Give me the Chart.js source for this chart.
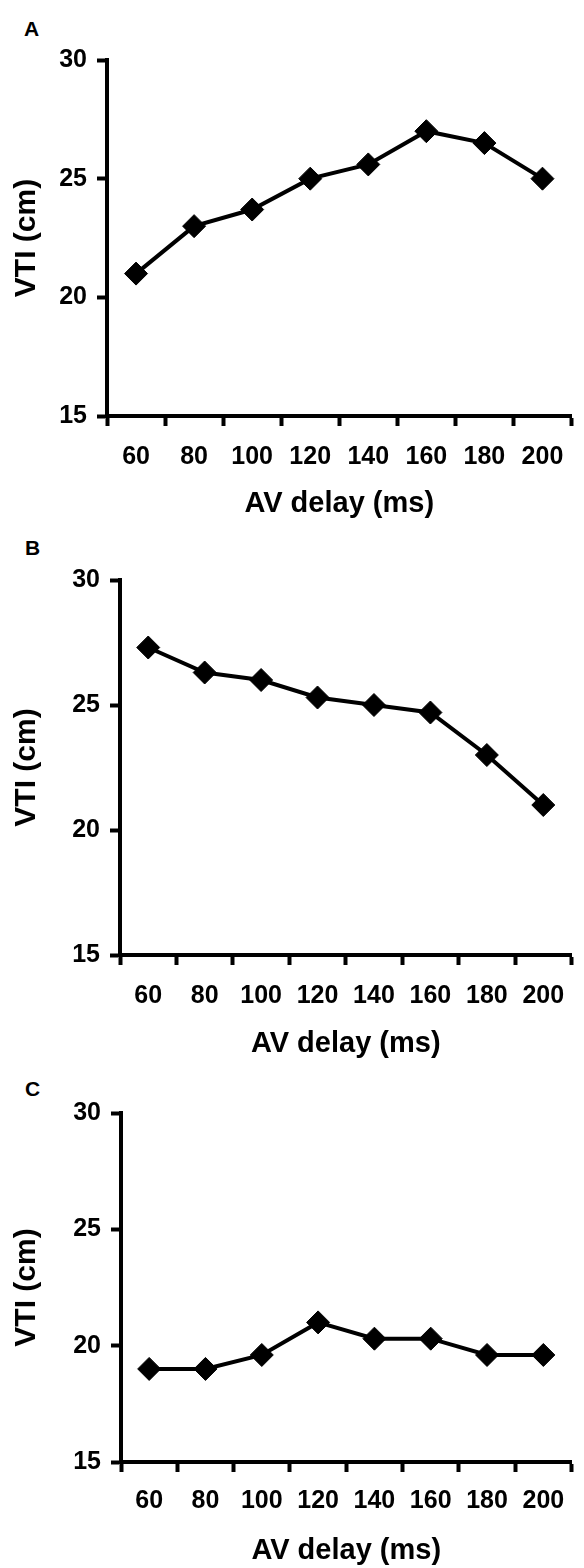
<!DOCTYPE html>
<html>
<head>
<meta charset="utf-8">
<script src="https://cdn.jsdelivr.net/npm/chart.js@4"></script>
<style>
  body { margin: 0; background: #fff; }
  .panel { position: absolute; left: 0; width: 584px; }
  .letter { position: absolute; font: bold 21px "Liberation Sans", Arial, sans-serif; color: #000; line-height: 1; }
</style>
</head>
<body>
<div class="letter" style="left:24px; top:18px;">A</div>
<div class="letter" style="left:25px; top:537px;">B</div>
<div class="letter" style="left:25px; top:1078px;">C</div>
<div class="panel" style="top:0; height:525px;"><canvas id="chart-a" width="584" height="525"></canvas></div>
<div class="panel" style="top:525px; height:538px;"><canvas id="chart-b" width="584" height="538"></canvas></div>
<div class="panel" style="top:1063px; height:505px;"><canvas id="chart-c" width="584" height="505"></canvas></div>
<script>
const delays = ['60', '80', '100', '120', '140', '160', '180', '200'];
const vtiA = [21, 23, 23.7, 25, 25.6, 27, 26.5, 25];
const vtiB = [27.3, 26.3, 26, 25.3, 25, 24.7, 23, 21];
const vtiC = [19, 19, 19.6, 21, 20.3, 20.3, 19.6, 19.6];
const yMin = 15, yMax = 30, yStep = 5;
const xTitle = 'AV delay (ms)';
const yTitle = 'VTI (cm)';

const FONT = '"Liberation Sans", Arial, sans-serif';

function makePanel(id, values, d) {
  const ctx = document.getElementById(id).getContext('2d');
  return new Chart(ctx, {
    type: 'line',
    data: {
      labels: delays,
      datasets: [{
        data: values,
        borderColor: '#000',
        borderWidth: 4,
        pointStyle: 'rectRot',
        pointRadius: 11.5,
        pointBackgroundColor: '#000',
        pointBorderColor: '#000',
        pointBorderWidth: 1,
        tension: 0,
        clip: false,
      }],
    },
    options: {
      responsive: false,
      animation: false,
      devicePixelRatio: 1,
      layout: { padding: { top: d.top, right: d.right, left: 0, bottom: 0 } },
      plugins: { legend: { display: false }, tooltip: { enabled: false } },
      scales: {
        x: {
          type: 'category',
          offset: true,
          afterFit: s => { s.height = d.xHeight; },
          grid: { offset: true, drawOnChartArea: false, drawTicks: true, tickLength: 10, tickWidth: 4, color: '#000' },
          border: { display: true, width: 4, color: '#000' },
          ticks: { color: '#000', padding: d.xPad, maxRotation: 0, autoSkip: false, font: { family: FONT, size: 25, weight: 'bold' } },
          title: { display: true, text: xTitle, color: '#000', padding: { top: 0, bottom: d.titlePad }, font: { family: FONT, size: 29, weight: 'bold', lineHeight: 1.2 } },
        },
        y: {
          min: yMin,
          max: yMax,
          afterFit: s => { s.width = d.yWidth; },
          grid: { drawOnChartArea: false, drawTicks: true, tickLength: 10, tickWidth: 4, color: '#000' },
          border: { display: true, width: 4, color: '#000' },
          ticks: { stepSize: yStep, color: '#000', padding: 10, font: { family: FONT, size: 25, weight: 'bold' } },
          title: { display: true, text: yTitle, color: '#000', padding: { top: 9, bottom: 0 }, font: { family: FONT, size: 30, weight: 'bold', lineHeight: 1.2 } },
        },
      },
    },
  });
}

makePanel('chart-a', vtiA, { top: 60, right: 4, xHeight: 109, xPad: 16, titlePad: 4, yWidth: 107 });
makePanel('chart-b', vtiB, { top: 55, right: 4, xHeight: 108, xPad: 16, titlePad: 2, yWidth: 120 });
makePanel('chart-c', vtiC, { top: 50, right: 3, xHeight: 106, xPad: 14, titlePad: 0, yWidth: 121 });
</script>
</body>
</html>
